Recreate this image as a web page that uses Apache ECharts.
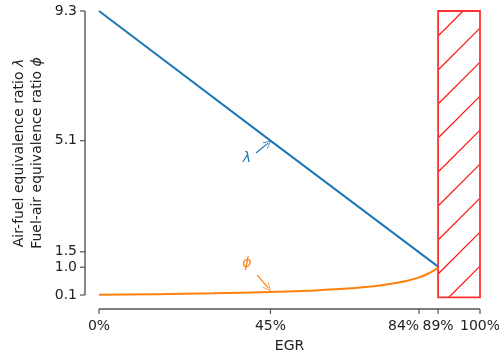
<!DOCTYPE html>
<html>
<head>
<meta charset="utf-8">
<script src="https://cdn.jsdelivr.net/npm/echarts@6/dist/echarts.min.js"></script>
<style>
  html, body { margin: 0; padding: 0; background: #fff; }
  #chart { width: 499px; height: 358px; }
</style>
</head>
<body>
<div id="chart"></div>
<script>
// EGR fraction vs. equivalence ratios
var egrTicks = [0, 0.45, 0.84, 0.89, 1.0];
var ratioTicks = [0.1, 1.0, 1.5, 5.1, 9.3];

var lambdaEgr = [0, 0.45, 0.89];
var lambdaVals = [9.3, 5.1, 1.02];

var phiEgr = [0, 0.15, 0.3, 0.45, 0.55, 0.62, 0.7, 0.75, 0.8, 0.84, 0.87, 0.89];
var phiVals = [0.108, 0.127, 0.154, 0.196, 0.24, 0.283, 0.358, 0.43, 0.538, 0.67, 0.83, 0.98];

// forbidden region (hatched box)
var boxEgr = [0.89, 1.0];
var boxRatio = [0.02, 9.3];

var FONT = 'DejaVu Sans';
var SPINE_OFFSET = 14;
var axisGray = '#555';
var chart = echarts.init(document.getElementById('chart'));

function pairs(xs, ys) {
    var out = [];
    for (var i = 0; i < xs.length; ++i) out.push([xs[i], ys[i]]);
    return out;
}

function renderBox(params, api) {
    var p0 = api.coord([api.value(0), api.value(3)]);
    var p1 = api.coord([api.value(1), api.value(2)]);
    var left = p0[0], top = p0[1], w = p1[0] - p0[0], bottom = p1[1];
    var children = [];
    // "/" hatch lines, clipped to the box
    var step = 34, start = top + 25 - step * 2;
    for (var yk = start; yk < bottom + w + step; yk += step) {
        var tmin = Math.max(0, yk - bottom);
        var tmax = Math.min(w, yk - top);
        if (tmin >= tmax) continue;
        children.push({
            type: 'line',
            shape: {x1: left + tmin, y1: yk - tmin, x2: left + tmax, y2: yk - tmax},
            style: {stroke: 'rgb(255,20,20)', fill: null, lineWidth: 1.2}
        });
    }
    children.push({
        type: 'rect',
        shape: {x: left, y: top, width: w, height: bottom - top},
        style: {fill: null, stroke: 'rgb(255,50,50)', lineWidth: 1.8}
    });
    return {type: 'group', children: children};
}

var arrowSym = 'path://M0,10 L5,0 L10,10 L9,10 L5,2 L1,10 Z';

var option = {
    animation: false,
    grid: {left: 99, right: 19, top: 11, bottom: 63, outerBoundsMode: 'none'},
    xAxis: {
        type: 'value', min: 0, max: 1, offset: SPINE_OFFSET,
        name: 'EGR', nameLocation: 'middle', nameGap: 30, nameMoveOverlap: false,
        nameTextStyle: {fontFamily: FONT, fontSize: 14, color: '#222'},
        axisLine: {show: false, onZero: false},
        axisTick: {show: false},
        axisLabel: {
            customValues: egrTicks, margin: 10, hideOverlap: false,
            fontFamily: FONT, fontSize: 14, color: '#222',
            formatter: function (v) {
                var s = Math.round(v * 100) + '%';
                // the 84% label sits to the left of its tick
                return v === 0.84 ? '{r|' + s + '}' : s;
            },
            rich: {r: {fontFamily: FONT, fontSize: 14, color: '#222', padding: [0, 31, 0, 0]}}
        },
        splitLine: {show: false}
    },
    yAxis: {
        type: 'value', min: 0.1, max: 9.3, offset: SPINE_OFFSET,
        name: 'Air-fuel equivalence ratio {i|λ}\nFuel-air equivalence ratio {i|ϕ}',
        nameLocation: 'middle', nameGap: 39, nameRotate: 90, nameMoveOverlap: false,
        nameTextStyle: {
            fontFamily: FONT, fontSize: 14, color: '#222', lineHeight: 18, align: 'center',
            rich: {i: {fontFamily: FONT, fontSize: 14, fontStyle: 'italic', color: '#222', lineHeight: 18}}
        },
        axisLine: {show: false, onZero: false},
        axisTick: {show: false},
        axisLabel: {
            customValues: ratioTicks, margin: 8, hideOverlap: false,
            fontFamily: FONT, fontSize: 14, color: '#222',
            formatter: function (v) { return v.toFixed(1); }
        },
        splitLine: {show: false}
    },
    series: [
        {
            type: 'custom', clip: false, z: 1,
            renderItem: renderBox,
            data: [[boxEgr[0], boxEgr[1], boxRatio[0], boxRatio[1]]]
        },
        {
            name: 'lambda', type: 'line', showSymbol: false, z: 3,
            lineStyle: {color: '#1f77b4', width: 2},
            itemStyle: {color: '#1f77b4'},
            data: pairs(lambdaEgr, lambdaVals),
            markLine: {
                silent: true, symbol: ['none', arrowSym], symbolSize: [8, 8],
                lineStyle: {color: '#1f77b4', width: 1.2, type: 'solid'},
                label: {show: false},
                data: [[{coord: [0.412, 4.7]}, {coord: [0.444, 5.02]}]]
            },
            markPoint: {
                silent: true, symbol: 'circle', symbolSize: 1,
                itemStyle: {color: 'transparent'},
                label: {show: true, position: 'inside', formatter: 'λ',
                        fontFamily: FONT, fontSize: 14, fontStyle: 'italic', color: '#1f77b4'},
                data: [{coord: [0.388, 4.54]}]
            }
        },
        {
            name: 'phi', type: 'line', showSymbol: false, z: 3,
            smooth: true,
            lineStyle: {color: '#ff7f0e', width: 2},
            itemStyle: {color: '#ff7f0e'},
            data: pairs(phiEgr, phiVals),
            markLine: {
                silent: true, symbol: ['none', arrowSym], symbolSize: [8, 8],
                lineStyle: {color: '#ff7f0e', width: 1.2, type: 'solid'},
                label: {show: false},
                data: [[{coord: [0.415, 0.75]}, {coord: [0.444, 0.33]}]]
            },
            markPoint: {
                silent: true, symbol: 'circle', symbolSize: 1,
                itemStyle: {color: 'transparent'},
                label: {show: true, position: 'inside', formatter: 'ϕ',
                        fontFamily: FONT, fontSize: 14, fontStyle: 'italic', color: '#ff7f0e'},
                data: [{coord: [0.388, 1.14]}]
            }
        }
    ]
};

chart.setOption(option);

// offset spines (matplotlib style), bounded to the axis range, as filled bars
function toPx(x, y) { return chart.convertToPixel({gridIndex: 0}, [x, y]); }
var lo = toPx(egrTicks[0], ratioTicks[0]);
var hi = toPx(egrTicks[egrTicks.length - 1], ratioTicks[ratioTicks.length - 1]);
var xLine = Math.round(lo[0] - SPINE_OFFSET), yLine = Math.round(lo[1] + SPINE_OFFSET);
var spines = [
    {type: 'rect', shape: {x: xLine - 0.7, y: hi[1], width: 1.4, height: lo[1] - hi[1]}},
    {type: 'rect', shape: {x: lo[0], y: yLine - 0.7, width: hi[0] - lo[0], height: 1.4}}
];
ratioTicks.forEach(function (v) {
    var y = toPx(0, v)[1];
    spines.push({type: 'rect', shape: {x: xLine - 5, y: y - 0.6, width: 5, height: 1.2}});
});
egrTicks.forEach(function (v) {
    var x = toPx(v, ratioTicks[0])[0];
    spines.push({type: 'rect', shape: {x: x - 0.6, y: yLine, width: 1.2, height: 5}});
});
spines.forEach(function (s) {
    s.style = {fill: axisGray};
    s.silent = true;
    s.z = 100;
});
chart.setOption({graphic: {elements: spines}});
</script>
</body>
</html>
